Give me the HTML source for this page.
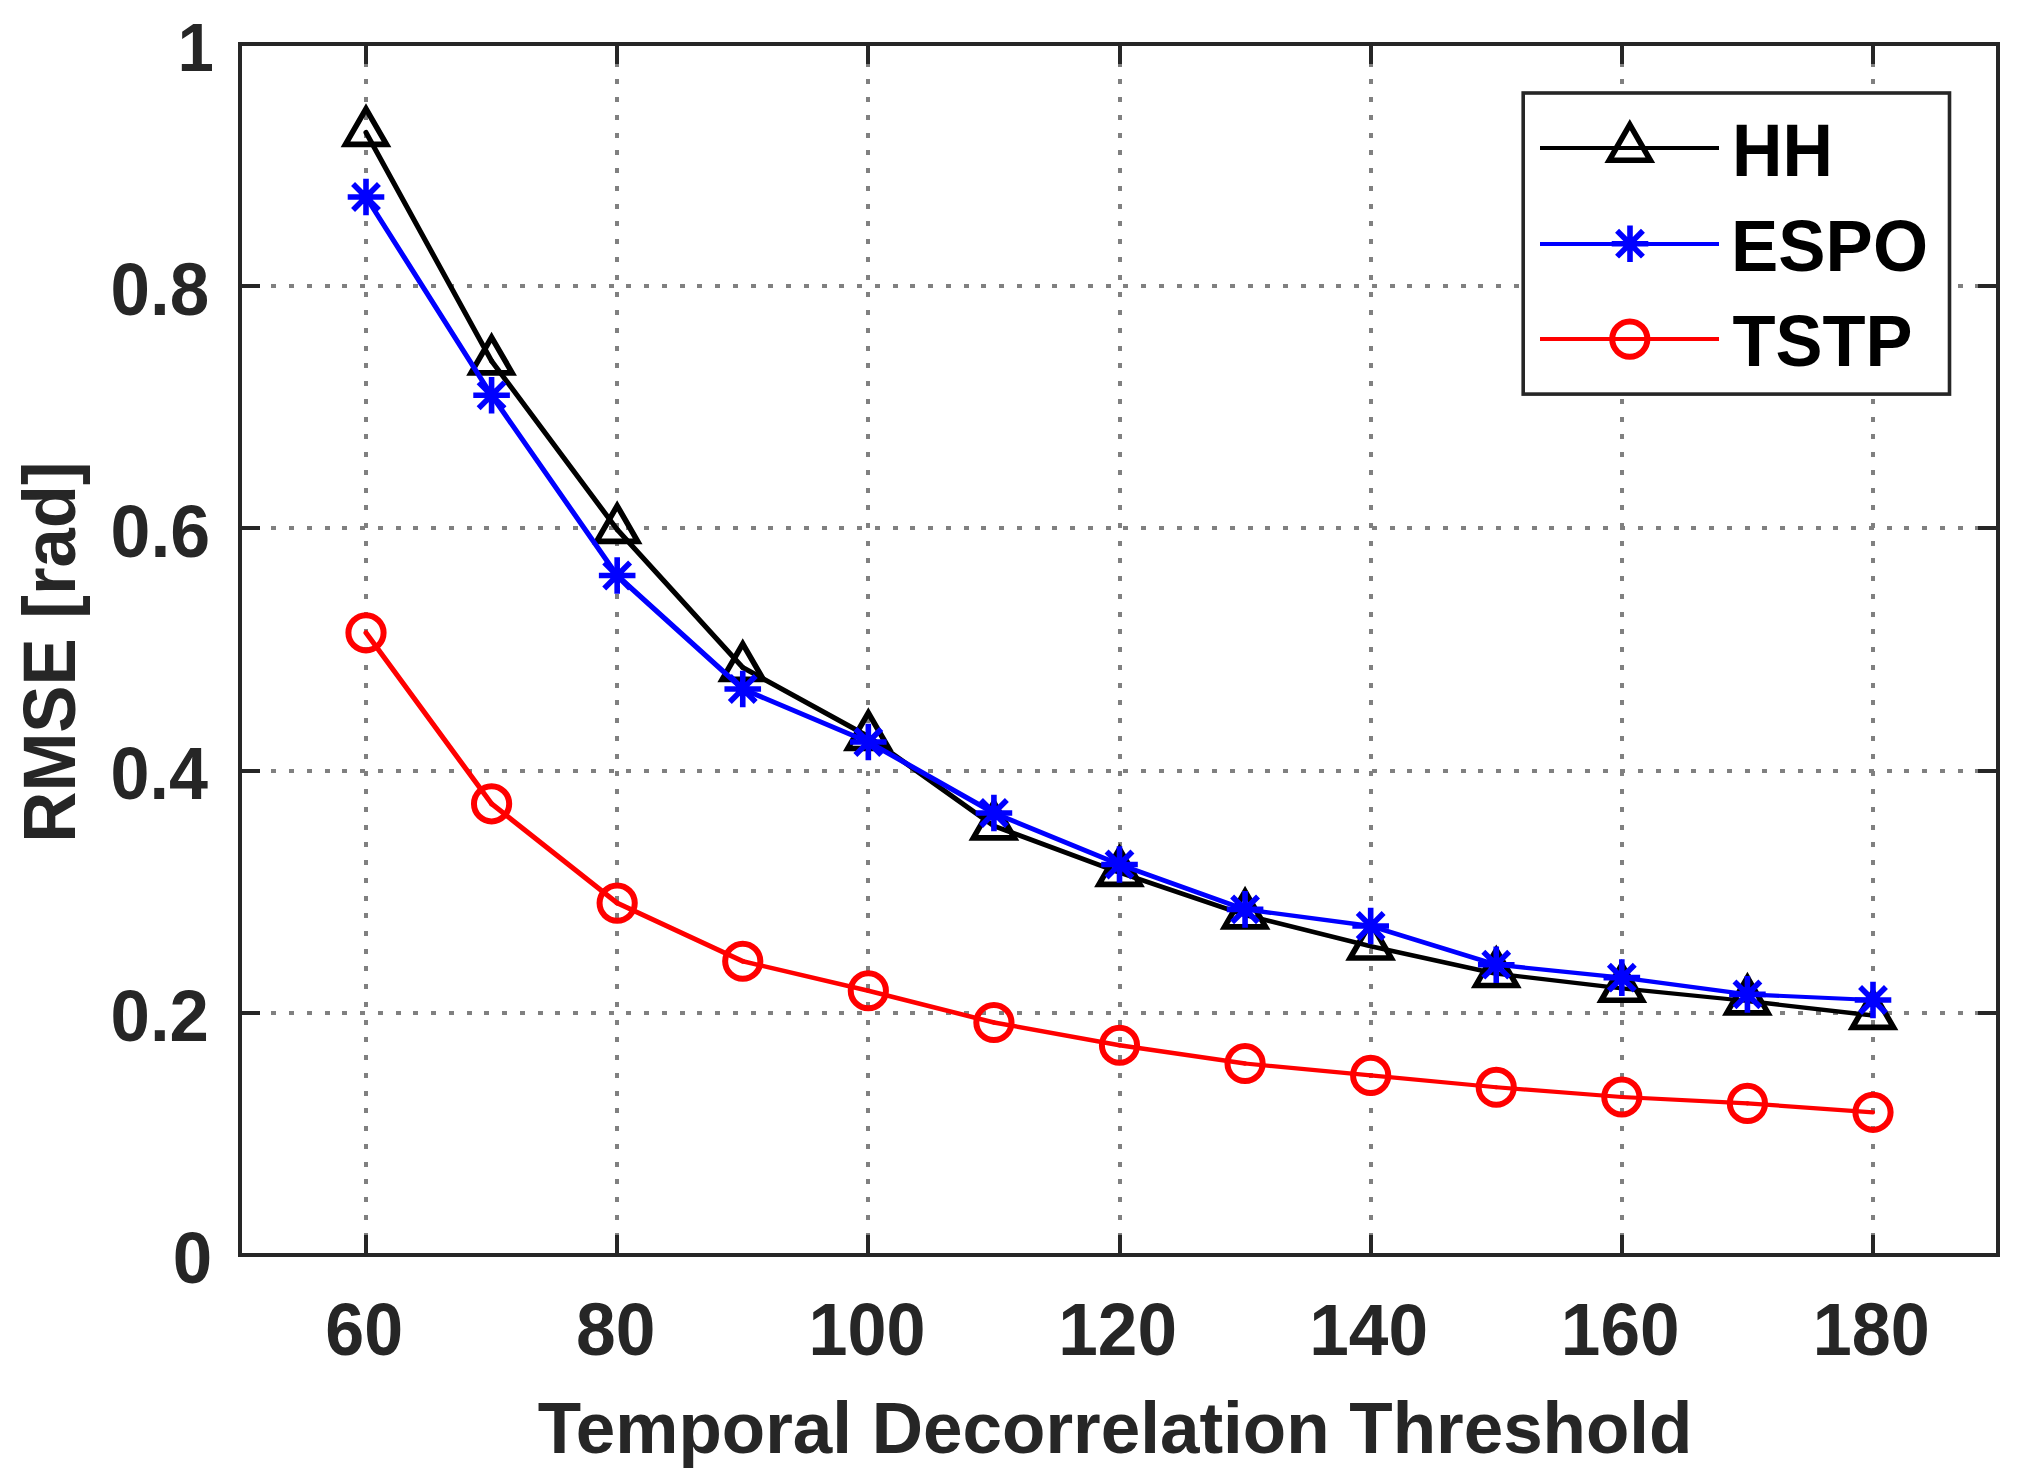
<!DOCTYPE html>
<html lang="en"><head><meta charset="utf-8"><title>RMSE vs Temporal Decorrelation Threshold</title>
<style>html,body{margin:0;padding:0;background:#fff;}svg{display:block;}text{font-family:"Liberation Sans",sans-serif;font-weight:bold;}</style>
</head><body>
<svg width="2024" height="1473" viewBox="0 0 2024 1473">
<rect x="0" y="0" width="2024" height="1473" fill="#fff"/>
<g stroke="#808080" stroke-width="4" stroke-dasharray="5.0 12.74" fill="none" shape-rendering="crispEdges">
<line x1="366.00" y1="44.0" x2="366.00" y2="1255.0"/>
<line x1="617.17" y1="44.0" x2="617.17" y2="1255.0"/>
<line x1="868.33" y1="44.0" x2="868.33" y2="1255.0"/>
<line x1="1119.50" y1="44.0" x2="1119.50" y2="1255.0"/>
<line x1="1370.67" y1="44.0" x2="1370.67" y2="1255.0"/>
<line x1="1621.83" y1="44.0" x2="1621.83" y2="1255.0"/>
<line x1="1873.00" y1="44.0" x2="1873.00" y2="1255.0"/>
</g>
<g stroke="#808080" stroke-width="4" stroke-dasharray="5.0 12.75" fill="none" shape-rendering="crispEdges">
<line x1="1998.0" y1="1012.80" x2="240.0" y2="1012.80"/>
<line x1="1998.0" y1="770.60" x2="240.0" y2="770.60"/>
<line x1="1998.0" y1="528.40" x2="240.0" y2="528.40"/>
<line x1="1998.0" y1="286.20" x2="240.0" y2="286.20"/>
</g>
<g stroke="#262626" stroke-width="4" fill="none" shape-rendering="crispEdges">
<line x1="366.00" y1="1255.0" x2="366.00" y2="1235.0"/>
<line x1="366.00" y1="44.0" x2="366.00" y2="64.0"/>
<line x1="617.17" y1="1255.0" x2="617.17" y2="1235.0"/>
<line x1="617.17" y1="44.0" x2="617.17" y2="64.0"/>
<line x1="868.33" y1="1255.0" x2="868.33" y2="1235.0"/>
<line x1="868.33" y1="44.0" x2="868.33" y2="64.0"/>
<line x1="1119.50" y1="1255.0" x2="1119.50" y2="1235.0"/>
<line x1="1119.50" y1="44.0" x2="1119.50" y2="64.0"/>
<line x1="1370.67" y1="1255.0" x2="1370.67" y2="1235.0"/>
<line x1="1370.67" y1="44.0" x2="1370.67" y2="64.0"/>
<line x1="1621.83" y1="1255.0" x2="1621.83" y2="1235.0"/>
<line x1="1621.83" y1="44.0" x2="1621.83" y2="64.0"/>
<line x1="1873.00" y1="1255.0" x2="1873.00" y2="1235.0"/>
<line x1="1873.00" y1="44.0" x2="1873.00" y2="64.0"/>
<line x1="240.0" y1="1012.80" x2="260.0" y2="1012.80"/>
<line x1="1998.0" y1="1012.80" x2="1978.0" y2="1012.80"/>
<line x1="240.0" y1="770.60" x2="260.0" y2="770.60"/>
<line x1="1998.0" y1="770.60" x2="1978.0" y2="770.60"/>
<line x1="240.0" y1="528.40" x2="260.0" y2="528.40"/>
<line x1="1998.0" y1="528.40" x2="1978.0" y2="528.40"/>
<line x1="240.0" y1="286.20" x2="260.0" y2="286.20"/>
<line x1="1998.0" y1="286.20" x2="1978.0" y2="286.20"/>
<rect x="240.0" y="44.0" width="1758.0" height="1211.0"/>
</g>
<g stroke="#000" fill="none" stroke-linecap="round">
<line x1="366.00" y1="132.50" x2="491.58" y2="361.00" stroke-width="5.10"/>
<line x1="491.58" y1="361.00" x2="617.17" y2="529.50" stroke-width="5.10"/>
<line x1="617.17" y1="529.50" x2="742.75" y2="667.50" stroke-width="5.10"/>
<line x1="742.75" y1="667.50" x2="868.33" y2="736.60" stroke-width="5.10"/>
<line x1="868.33" y1="736.60" x2="993.92" y2="826.00" stroke-width="5.10"/>
<line x1="993.92" y1="826.00" x2="1119.50" y2="872.50" stroke-width="4.83"/>
<line x1="1119.50" y1="872.50" x2="1245.08" y2="915.00" stroke-width="4.77"/>
<line x1="1245.08" y1="915.00" x2="1370.67" y2="946.20" stroke-width="4.58"/>
<line x1="1370.67" y1="946.20" x2="1496.25" y2="973.70" stroke-width="4.51"/>
<line x1="1496.25" y1="973.70" x2="1621.83" y2="988.40" stroke-width="4.28"/>
<line x1="1621.83" y1="988.40" x2="1747.42" y2="1001.00" stroke-width="4.24"/>
<line x1="1747.42" y1="1001.00" x2="1873.00" y2="1015.50" stroke-width="4.28"/>
</g>
<g stroke="#000" stroke-width="5.6" fill="none" stroke-linejoin="miter" stroke-miterlimit="10">
<path d="M366.00 108.80L386.52 144.35L345.48 144.35Z"/>
<path d="M491.58 337.30L512.11 372.85L471.06 372.85Z"/>
<path d="M617.17 505.80L637.69 541.35L596.64 541.35Z"/>
<path d="M742.75 643.80L763.27 679.35L722.23 679.35Z"/>
<path d="M868.33 712.90L888.86 748.45L847.81 748.45Z"/>
<path d="M993.92 802.30L1014.44 837.85L973.39 837.85Z"/>
<path d="M1119.50 848.80L1140.02 884.35L1098.98 884.35Z"/>
<path d="M1245.08 891.30L1265.61 926.85L1224.56 926.85Z"/>
<path d="M1370.67 922.50L1391.19 958.05L1350.14 958.05Z"/>
<path d="M1496.25 950.00L1516.77 985.55L1475.73 985.55Z"/>
<path d="M1621.83 964.70L1642.36 1000.25L1601.31 1000.25Z"/>
<path d="M1747.42 977.30L1767.94 1012.85L1726.89 1012.85Z"/>
<path d="M1873.00 991.80L1893.52 1027.35L1852.48 1027.35Z"/>
</g>
<g stroke="#0000ff" fill="none" stroke-linecap="round">
<line x1="366.00" y1="197.00" x2="491.58" y2="395.30" stroke-width="5.10"/>
<line x1="491.58" y1="395.30" x2="617.17" y2="575.50" stroke-width="5.10"/>
<line x1="617.17" y1="575.50" x2="742.75" y2="689.00" stroke-width="5.10"/>
<line x1="742.75" y1="689.00" x2="868.33" y2="742.00" stroke-width="4.93"/>
<line x1="868.33" y1="742.00" x2="993.92" y2="813.00" stroke-width="5.10"/>
<line x1="993.92" y1="813.00" x2="1119.50" y2="864.50" stroke-width="4.91"/>
<line x1="1119.50" y1="864.50" x2="1245.08" y2="909.40" stroke-width="4.81"/>
<line x1="1245.08" y1="909.40" x2="1370.67" y2="926.00" stroke-width="4.31"/>
<line x1="1370.67" y1="926.00" x2="1496.25" y2="964.70" stroke-width="4.71"/>
<line x1="1496.25" y1="964.70" x2="1621.83" y2="977.60" stroke-width="4.25"/>
<line x1="1621.83" y1="977.60" x2="1747.42" y2="994.40" stroke-width="4.32"/>
<line x1="1747.42" y1="994.40" x2="1873.00" y2="1000.00" stroke-width="4.11"/>
</g>
<g stroke="#0000ff" stroke-width="5.6" fill="none">
<path d="M347.70 197.00H384.30M366.00 178.70V215.30M353.06 184.06L378.94 209.94M353.06 209.94L378.94 184.06"/>
<path d="M473.28 395.30H509.88M491.58 377.00V413.60M478.64 382.36L504.52 408.24M478.64 408.24L504.52 382.36"/>
<path d="M598.87 575.50H635.47M617.17 557.20V593.80M604.23 562.56L630.11 588.44M604.23 588.44L630.11 562.56"/>
<path d="M724.45 689.00H761.05M742.75 670.70V707.30M729.81 676.06L755.69 701.94M729.81 701.94L755.69 676.06"/>
<path d="M850.03 742.00H886.63M868.33 723.70V760.30M855.39 729.06L881.27 754.94M855.39 754.94L881.27 729.06"/>
<path d="M975.62 813.00H1012.22M993.92 794.70V831.30M980.98 800.06L1006.86 825.94M980.98 825.94L1006.86 800.06"/>
<path d="M1101.20 864.50H1137.80M1119.50 846.20V882.80M1106.56 851.56L1132.44 877.44M1106.56 877.44L1132.44 851.56"/>
<path d="M1226.78 909.40H1263.38M1245.08 891.10V927.70M1232.14 896.46L1258.02 922.34M1232.14 922.34L1258.02 896.46"/>
<path d="M1352.37 926.00H1388.97M1370.67 907.70V944.30M1357.73 913.06L1383.61 938.94M1357.73 938.94L1383.61 913.06"/>
<path d="M1477.95 964.70H1514.55M1496.25 946.40V983.00M1483.31 951.76L1509.19 977.64M1483.31 977.64L1509.19 951.76"/>
<path d="M1603.53 977.60H1640.13M1621.83 959.30V995.90M1608.89 964.66L1634.77 990.54M1608.89 990.54L1634.77 964.66"/>
<path d="M1729.12 994.40H1765.72M1747.42 976.10V1012.70M1734.48 981.46L1760.36 1007.34M1734.48 1007.34L1760.36 981.46"/>
<path d="M1854.70 1000.00H1891.30M1873.00 981.70V1018.30M1860.06 987.06L1885.94 1012.94M1860.06 1012.94L1885.94 987.06"/>
</g>
<g stroke="#ff0000" fill="none" stroke-linecap="round">
<line x1="366.00" y1="632.80" x2="491.58" y2="803.80" stroke-width="5.10"/>
<line x1="491.58" y1="803.80" x2="617.17" y2="903.10" stroke-width="5.10"/>
<line x1="617.17" y1="903.10" x2="742.75" y2="961.25" stroke-width="5.01"/>
<line x1="742.75" y1="961.25" x2="868.33" y2="990.75" stroke-width="4.55"/>
<line x1="868.33" y1="990.75" x2="993.92" y2="1022.50" stroke-width="4.59"/>
<line x1="993.92" y1="1022.50" x2="1119.50" y2="1045.25" stroke-width="4.43"/>
<line x1="1119.50" y1="1045.25" x2="1245.08" y2="1063.50" stroke-width="4.35"/>
<line x1="1245.08" y1="1063.50" x2="1370.67" y2="1075.40" stroke-width="4.23"/>
<line x1="1370.67" y1="1075.40" x2="1496.25" y2="1087.25" stroke-width="4.23"/>
<line x1="1496.25" y1="1087.25" x2="1621.83" y2="1097.00" stroke-width="4.19"/>
<line x1="1621.83" y1="1097.00" x2="1747.42" y2="1103.40" stroke-width="4.12"/>
<line x1="1747.42" y1="1103.40" x2="1873.00" y2="1112.30" stroke-width="4.17"/>
</g>
<g stroke="#ff0000" stroke-width="6" fill="none">
<circle cx="366.00" cy="632.80" r="17.6"/>
<circle cx="491.58" cy="803.80" r="17.6"/>
<circle cx="617.17" cy="903.10" r="17.6"/>
<circle cx="742.75" cy="961.25" r="17.6"/>
<circle cx="868.33" cy="990.75" r="17.6"/>
<circle cx="993.92" cy="1022.50" r="17.6"/>
<circle cx="1119.50" cy="1045.25" r="17.6"/>
<circle cx="1245.08" cy="1063.50" r="17.6"/>
<circle cx="1370.67" cy="1075.40" r="17.6"/>
<circle cx="1496.25" cy="1087.25" r="17.6"/>
<circle cx="1621.83" cy="1097.00" r="17.6"/>
<circle cx="1747.42" cy="1103.40" r="17.6"/>
<circle cx="1873.00" cy="1112.30" r="17.6"/>
</g>
<rect x="1523.2" y="93.0" width="426.30" height="301.10" fill="#fff" stroke="#262626" stroke-width="3.6"/>
<g fill="none" stroke-width="4">
<line x1="1540" y1="148" x2="1719" y2="148" stroke="#000"/>
<line x1="1540" y1="244" x2="1719" y2="244" stroke="#0000ff"/>
<line x1="1540" y1="339" x2="1719" y2="339" stroke="#ff0000"/>
</g>
<g stroke="#000" stroke-width="5.6" fill="none" stroke-linejoin="miter" stroke-miterlimit="10"><path d="M1629.80 124.70L1650.32 160.25L1609.28 160.25Z"/></g>
<g stroke="#0000ff" stroke-width="5.6" fill="none"><path d="M1611.70 243.70H1648.30M1630.00 225.40V262.00M1617.06 230.76L1642.94 256.64M1617.06 256.64L1642.94 230.76"/></g>
<g stroke="#ff0000" stroke-width="6" fill="none"><circle cx="1629.80" cy="339.10" r="17.6"/></g>
<text transform="translate(213.90 71.36) scale(0.9000 0.9556)" x="0" y="0" font-size="72" text-anchor="end" fill="#262626">1</text>
<text transform="translate(209.17 314.69) scale(0.9853 1.0225)" x="0" y="0" font-size="72" text-anchor="end" fill="#262626">0.8</text>
<text transform="translate(210.19 556.90) scale(0.9957 1.0235)" x="0" y="0" font-size="72" text-anchor="end" fill="#262626">0.6</text>
<text transform="translate(208.00 799.10) scale(0.9732 1.0216)" x="0" y="0" font-size="72" text-anchor="end" fill="#262626">0.4</text>
<text transform="translate(208.95 1041.30) scale(0.9830 1.0039)" x="0" y="0" font-size="72" text-anchor="end" fill="#262626">0.2</text>
<text transform="translate(212.26 1282.50) scale(0.9853 1.0020)" x="0" y="0" font-size="72" text-anchor="end" fill="#262626">0</text>
<text transform="translate(364.18 1355.09) scale(0.9713 1.0167)" x="0" y="0" font-size="72" text-anchor="middle" fill="#262626">60</text>
<text transform="translate(615.77 1355.09) scale(0.9920 1.0167)" x="0" y="0" font-size="72" text-anchor="middle" fill="#262626">80</text>
<text transform="translate(866.95 1355.09) scale(0.9735 1.0167)" x="0" y="0" font-size="72" text-anchor="middle" fill="#262626">100</text>
<text transform="translate(1117.66 1355.09) scale(0.9884 1.0167)" x="0" y="0" font-size="72" text-anchor="middle" fill="#262626">120</text>
<text transform="translate(1368.58 1354.50) scale(0.9893 1.0049)" x="0" y="0" font-size="72" text-anchor="middle" fill="#262626">140</text>
<text transform="translate(1620.19 1355.09) scale(0.9884 1.0167)" x="0" y="0" font-size="72" text-anchor="middle" fill="#262626">160</text>
<text transform="translate(1871.28 1355.09) scale(0.9735 1.0167)" x="0" y="0" font-size="72" text-anchor="middle" fill="#262626">180</text>
<text transform="translate(1115.10 1453.00) scale(0.9865 1.0100)" x="0" y="0" font-size="72" text-anchor="middle" fill="#262626">Temporal Decorrelation Threshold</text>
<text transform="translate(74.90 652.09) rotate(-90) scale(0.9826 1.0200)" x="0" y="0" font-size="72" text-anchor="middle" fill="#262626">RMSE [rad]</text>
<text transform="translate(1732.05 175.80) scale(0.9702 1.0180)" x="0" y="0" font-size="72" text-anchor="start" fill="#000">HH</text>
<text transform="translate(1731.08 270.99) scale(0.9844 1.0067)" x="0" y="0" font-size="72" text-anchor="start" fill="#000">ESPO</text>
<text transform="translate(1732.41 366.00) scale(0.9785 1.0019)" x="0" y="0" font-size="72" text-anchor="start" fill="#000">TSTP</text>
</svg>
</body></html>
